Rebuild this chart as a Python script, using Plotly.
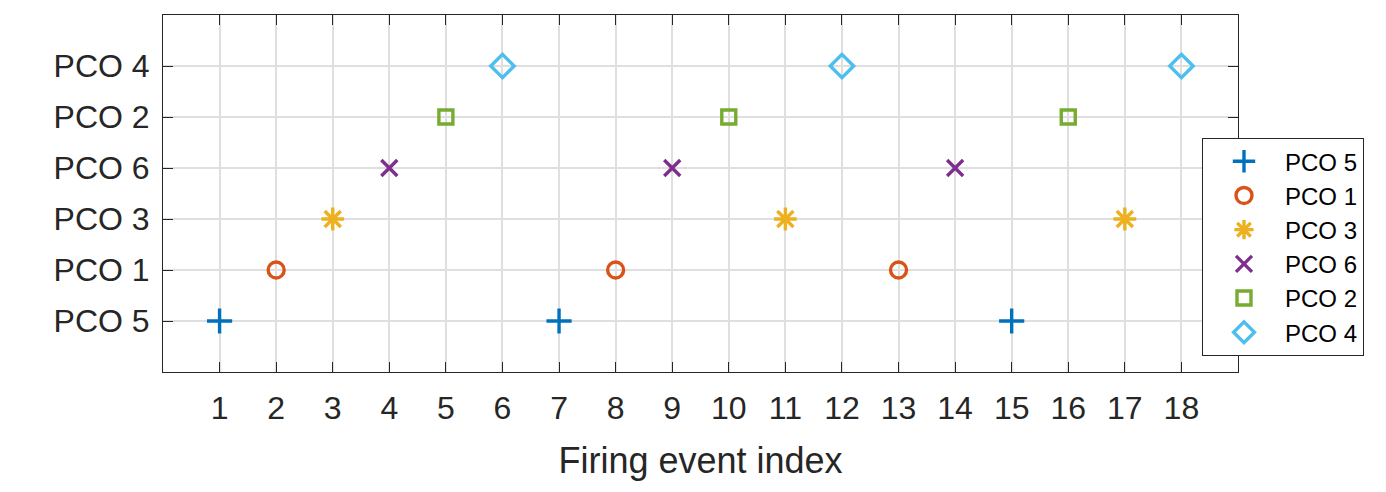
import plotly.graph_objects as go

y_labels = ["PCO 5", "PCO 1", "PCO 3", "PCO 6", "PCO 2", "PCO 4"]
y_vals = [1, 2, 3, 4, 5, 6]

series_names = ["PCO 5", "PCO 1", "PCO 3", "PCO 6", "PCO 2", "PCO 4"]
pco5_x = [1, 7, 15]
pco1_x = [2, 8, 13]
pco3_x = [3, 11, 17]
pco6_x = [4, 9, 14]
pco2_x = [5, 10, 16]
pco4_x = [6, 12, 18]
series_x = [pco5_x, pco1_x, pco3_x, pco6_x, pco2_x, pco4_x]
series_level = [1, 2, 3, 4, 5, 6]

colors = ["#0072BD", "#D95319", "#EDB120", "#7E2F8E", "#77AC30", "#4DBEEE"]
symbols = ["cross-thin-open", "circle-open", "asterisk-open", "x-thin-open", "square-open", "diamond-open"]
sizes = [18, 16, 19, 16, 14, 18]

fig = go.Figure()
for name, xs, lvl, c, s, sz in zip(series_names, series_x, series_level, colors, symbols, sizes):
    fig.add_trace(go.Scatter(
        x=xs, y=[lvl] * len(xs), mode="markers", name=name,
        marker=dict(symbol=s, size=sz, color=c, line=dict(color=c, width=3.4)),
    ))

FONT = "Liberation Sans, Arial, sans-serif"
axis_common = dict(
    showline=True, linecolor="#262626", linewidth=1, mirror="ticks",
    ticks="inside", ticklen=10, tickcolor="#262626", tickwidth=1,
    showgrid=True, gridcolor="#DFDFDF", gridwidth=1.5, zeroline=False,
    tickfont=dict(family=FONT, size=32, color="#262626"),
)

fig.update_layout(
    width=1386, height=492,
    margin=dict(l=163, r=148, t=15, b=120),
    paper_bgcolor="white", plot_bgcolor="white",
    font=dict(family=FONT, color="#262626"),
    xaxis=dict(range=[0, 19], tickvals=list(range(1, 19)), ticklabelstandoff=8,
               title=dict(text="Firing event index", font=dict(size=36, color="#262626"), standoff=22),
               **axis_common),
    yaxis=dict(range=[0, 7], tickvals=y_vals, ticktext=y_labels, ticklabelstandoff=6, **axis_common),
    legend=dict(x=0.9665, y=0.655, xanchor="left", yanchor="top",
                bordercolor="#262626", borderwidth=1, bgcolor="white",
                font=dict(size=24, color="black"), tracegroupgap=0,
                itemwidth=72, itemsizing="trace"),
)

fig.write_html("out.html")
